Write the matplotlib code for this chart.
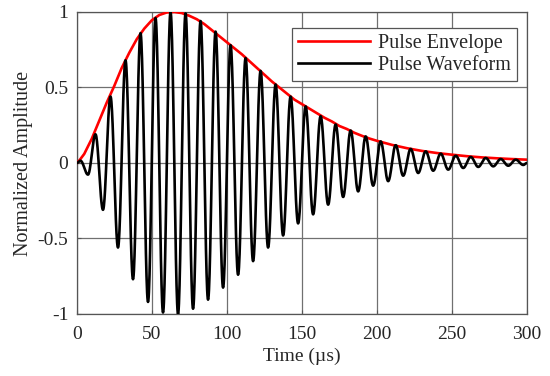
import numpy as np
import matplotlib
matplotlib.use("Agg")
import matplotlib.pyplot as plt

# ---- data ----
# Pulse envelope (time in µs, normalized amplitude)
env_t = [0, 2, 5, 10, 15, 20, 25, 30, 35, 40, 45, 50, 55, 60, 65, 70, 75, 80, 85, 90, 95,
         100, 105, 110, 115, 120, 125, 130, 135, 140, 145, 150, 155, 160, 165, 170, 175,
         180, 185, 190, 195, 200, 210, 220, 230, 240, 250, 260, 270, 280, 290, 300]
env_v = [0.0, 0.02, 0.06, 0.16, 0.28, 0.40, 0.51, 0.63, 0.73, 0.82, 0.89, 0.945, 0.98, 0.997,
         1.0, 0.993, 0.975, 0.952, 0.92, 0.88, 0.84, 0.80, 0.76, 0.72, 0.675, 0.63, 0.585,
         0.54, 0.50, 0.46, 0.42, 0.39, 0.36, 0.33, 0.30, 0.275, 0.245, 0.225, 0.20, 0.18,
         0.162, 0.147, 0.12, 0.098, 0.08, 0.066, 0.055, 0.045, 0.037, 0.031, 0.026, 0.022]

# Pulse waveform extrema (successive peaks and troughs)
wav_t = [0, 2.5, 7.5, 12.5, 17.5, 22.5, 27.5, 32.5, 37.5, 42.5, 47.5, 52.5, 57.5, 62.5,
         67.5, 72.5, 77.5, 82.5, 87.5, 92.5, 97.5, 102.5, 107.5, 112.5, 117.5, 122.5,
         127.5, 132.5, 137.5, 142.5, 147.5, 152.5, 157.5, 162.5, 167.5, 172.5, 177.5,
         182.5, 187.5, 192.5, 197.5, 202.5, 207.5, 212.5, 217.5, 222.5, 227.5, 232.5,
         237.5, 242.5, 247.5, 252.5, 257.5, 262.5, 267.5, 272.5, 277.5, 282.5, 287.5,
         292.5, 297.5, 300]
wav_v = [0.0, 0.015, -0.077, 0.19, -0.31, 0.44, -0.56, 0.68, -0.77, 0.86, -0.92, 0.96,
         -0.99, 1.0, -1.0, 0.99, -0.965, 0.94, -0.905, 0.87, -0.825, 0.78, -0.74, 0.695,
         -0.65, 0.61, -0.56, 0.52, -0.48, 0.44, -0.40, 0.375, -0.34, 0.31, -0.276, 0.255,
         -0.225, 0.215, -0.188, 0.176, -0.15, 0.143, -0.12, 0.118, -0.084, 0.093, -0.066,
         0.077, -0.051, 0.062, -0.044, 0.048, -0.033, 0.04, -0.026, 0.033, -0.022, 0.026,
         -0.018, 0.022, -0.013, 0.0]

x_ticks = [0, 50, 100, 150, 200, 250, 300]
y_ticks = [-1, -0.5, 0, 0.5, 1]
y_tick_labels = ["-1", "-0.5", "0", "0.5", "1"]
legend_labels = ["Pulse Envelope", "Pulse Waveform"]

# smooth drawing of the oscillation between successive extrema
seg_t, seg_v = [], []
for i in range(len(wav_t) - 1):
    s = np.linspace(0, 1, 25, endpoint=False)
    seg_t.append(wav_t[i] + (wav_t[i + 1] - wav_t[i]) * s)
    seg_v.append(wav_v[i] + (wav_v[i + 1] - wav_v[i]) * (1 - np.cos(np.pi * s)) / 2)
seg_t.append(np.array([wav_t[-1]]))
seg_v.append(np.array([wav_v[-1]]))
wt = np.concatenate(seg_t)
wv = np.concatenate(seg_v)

plt.rcParams['font.family'] = ['Liberation Serif', 'DejaVu Serif']

fig = plt.figure(figsize=(5.5, 3.76), dpi=100)
ax = fig.add_axes([0.1395, 0.1649, 0.8187, 0.8032])

ax.plot(env_t, env_v, color='#ff0000', lw=1.9, label=legend_labels[0], zorder=3,
        solid_joinstyle='round')
ax.plot(wt, wv, color='black', lw=1.9, label=legend_labels[1], zorder=4)

ax.set_xlim(0, 300)
ax.set_ylim(-1, 1)
ax.set_xticks(x_ticks)
ax.set_xticklabels([str(v) for v in x_ticks])
ax.set_yticks(y_ticks)
ax.set_yticklabels(y_tick_labels)
ax.grid(True, color='#707070', lw=0.9, zorder=0)
ax.set_axisbelow(True)
for sp in ax.spines.values():
    sp.set_color('#555555')
    sp.set_linewidth(0.9)
ax.tick_params(direction='in', length=3, color='#555555', labelsize=14,
               labelcolor='#262626')
ax.tick_params(axis='x', pad=9)
ax.tick_params(axis='y', pad=6)

ax.set_xlabel('Time (µs)', fontsize=14, color='#262626', labelpad=3)
ax.set_ylabel('Normalized Amplitude', fontsize=14.5, color='#262626', labelpad=3)

leg = ax.legend(loc='upper right', bbox_to_anchor=(0.9785, 0.946), borderaxespad=0,
                fontsize=14.5, handlelength=3.6, handletextpad=0.4, fancybox=False,
                framealpha=1, edgecolor='#555555', borderpad=0.3, labelspacing=0.12)
leg.get_frame().set_linewidth(0.9)
for t in leg.get_texts():
    t.set_color('#262626')

fig.savefig('out.png', dpi=100)
